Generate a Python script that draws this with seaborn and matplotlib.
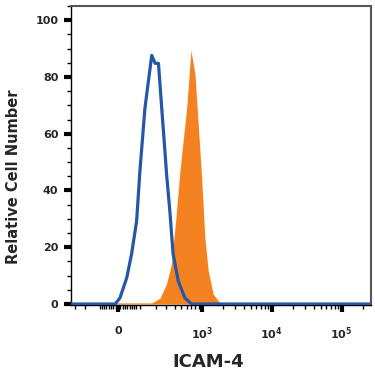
import matplotlib
matplotlib.use('Agg')
import matplotlib.pyplot as plt
import matplotlib.ticker as mticker
import seaborn as sns
import pandas as pd

# Histogram values (fluorescence intensity vs relative count)
control_x = [-286, -12, 8, 37, 59, 83, 100, 128, 172, 197, 224, 253, 284, 301, 338, 379, 453, 569, 711, 262144]
control_y = [0, 0, 2.1, 9.2, 17.7, 29.3, 47, 69, 87.6, 84.8, 84.8, 69, 54, 46, 33, 17.7, 8.1, 2.1, 0, 0]

stained_x = [-21, 172, 238, 301, 358, 414, 480, 602, 695, 795, 885, 985, 1107, 1236, 1457, 1816, 2140]
stained_y = [0.4, 0.4, 2.1, 7.1, 14.1, 29.3, 47, 69, 89.4, 81, 63.6, 46, 23.3, 11.7, 3.5, 0.4, 0]

major_ticks = [0, 1e3, 1e4, 1e5]
major_labels = ['0', '$10^3$', '$10^4$', '$10^5$']
minor_ticks = ([-250, -170] + list(range(-80, 90, 10)) + list(range(100, 1000, 100))
               + list(range(2000, 10000, 1000)) + list(range(20000, 100000, 10000)) + [200000])

blue = '#2457A6'
orange = '#F58220'

sns.set_style('white')
plt.rcParams['font.family'] = ['DejaVu Sans']
plt.rcParams['mathtext.default'] = 'regular'

fig = plt.figure(figsize=(3.75, 3.75), dpi=100)
ax = fig.add_axes([0.189, 0.187, 0.800, 0.797])

ax.set_xscale('asinh', linear_width=127)

ax.fill_between(stained_x, stained_y, 0, color=orange, linewidth=0, zorder=2)
df = pd.DataFrame({'x': control_x, 'y': control_y})
sns.lineplot(data=df, x='x', y='y', ax=ax, color=blue, linewidth=2.3,
             sort=False, estimator=None, zorder=3)

ax.set_xlim(-286, 262144)
ax.set_ylim(-0.3, 105)

ax.xaxis.set_major_locator(mticker.FixedLocator(major_ticks))
ax.xaxis.set_major_formatter(mticker.FixedFormatter(major_labels))
ax.xaxis.set_minor_locator(mticker.FixedLocator(minor_ticks))
ax.xaxis.set_minor_formatter(mticker.NullFormatter())
ax.yaxis.set_major_locator(mticker.MultipleLocator(20))
ax.yaxis.set_minor_locator(mticker.MultipleLocator(5))

ax.tick_params(axis='both', which='major', direction='out', length=5, width=3, color='black',
               labelsize=8)
ax.tick_params(axis='both', which='minor', direction='out', length=3, width=1, color='black')
ax.tick_params(axis='x', which='major', pad=10, bottom=True)
ax.tick_params(axis='x', which='minor', bottom=True)
ax.tick_params(axis='y', which='major', pad=4, left=True)
ax.tick_params(axis='y', which='minor', left=True)
for lab in ax.get_xticklabels() + ax.get_yticklabels():
    lab.set_fontweight('bold')

for side in ['top', 'right']:
    ax.spines[side].set_color('#555555')
    ax.spines[side].set_linewidth(1.5)
for side in ['left', 'bottom']:
    ax.spines[side].set_color('black')
    ax.spines[side].set_linewidth(1)

ax.set_xlabel('ICAM-4', fontsize=13, fontweight='bold', va='center')
ax.set_ylabel('Relative Cell Number', fontsize=10.5, fontweight='bold', va='center')
ax.xaxis.set_label_coords(0.457, -0.19)
ax.yaxis.set_label_coords(-0.19, 0.43)

fig.savefig('out.png', dpi=100)
